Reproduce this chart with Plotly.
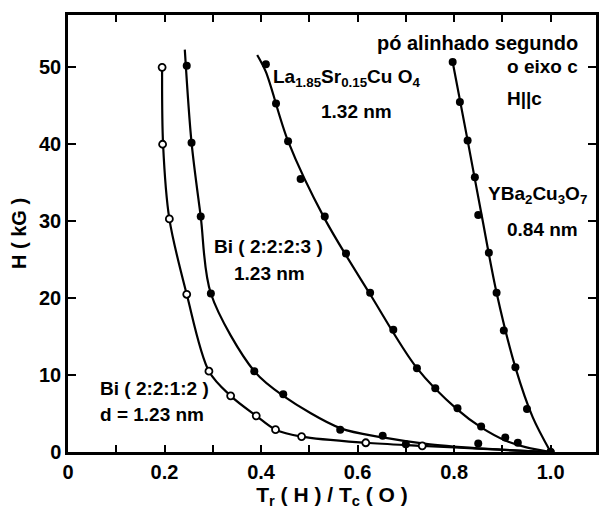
import plotly.graph_objects as go

# ---- data ----
bi2212_x = [0.195, 0.196, 0.21, 0.246, 0.292, 0.337, 0.39, 0.43, 0.484, 0.617, 0.734]
bi2212_y = [50.0, 40.0, 30.3, 20.5, 10.5, 7.3, 4.7, 2.9, 2.0, 1.2, 0.8]
bi2212_curve_x = [0.195, 0.197, 0.21, 0.246, 0.292, 0.337, 0.39, 0.43, 0.484, 0.617, 0.734, 0.86, 1.0]
bi2212_curve_y = [50.5, 40.0, 30.3, 20.5, 10.5, 7.3, 4.7, 2.9, 2.0, 1.2, 0.8, 0.4, 0.0]

bi2223_x = [0.246, 0.256, 0.275, 0.296, 0.386, 0.446, 0.564, 0.652, 0.70, 0.85]
bi2223_y = [50.2, 40.2, 30.6, 20.6, 10.5, 7.5, 2.9, 2.1, 1.0, 1.1]
bi2223_curve_x = [0.242, 0.256, 0.275, 0.296, 0.386, 0.446, 0.564, 0.652, 0.75, 0.87, 1.0]
bi2223_curve_y = [52.3, 40.2, 30.6, 20.6, 10.5, 7.3, 3.1, 1.9, 1.0, 0.4, 0.0]

la_x = [0.41, 0.431, 0.456, 0.482, 0.532, 0.576, 0.626, 0.674, 0.723, 0.761, 0.807, 0.856, 0.906, 0.932, 1.0]
la_y = [50.4, 45.3, 40.4, 35.5, 30.6, 25.8, 20.7, 15.9, 10.9, 8.3, 5.7, 3.3, 1.9, 1.2, 0.0]
la_curve_x = [0.392, 0.41, 0.456, 0.532, 0.626, 0.723, 0.807, 0.856, 0.906, 0.95, 1.0]
la_curve_y = [51.6, 49.4, 40.4, 30.3, 20.5, 10.9, 5.5, 3.2, 1.5, 0.6, 0.0]

yba_x = [0.797, 0.812, 0.828, 0.843, 0.85, 0.872, 0.888, 0.903, 0.927, 0.951, 1.0]
yba_y = [50.7, 45.5, 40.5, 35.7, 30.8, 25.9, 20.7, 15.8, 11.0, 5.6, 0.0]
yba_curve_x = [0.797, 0.828, 0.857, 0.888, 0.927, 0.963, 1.0]
yba_curve_y = [50.7, 40.5, 30.8, 20.7, 11.0, 4.5, 0.0]

x_tickvals = [0, 0.1, 0.2, 0.3, 0.4, 0.5, 0.6, 0.7, 0.8, 0.9, 1.0]
x_ticktext = ["0", "", "0.2", "", "0.4", "", "0.6", "", "0.8", "", "1.0"]
y_tickvals = [0, 10, 20, 30, 40, 50]
y_ticktext = ["0", "10", "20", "30", "40", "50"]

FONT = "Liberation Sans"
fig = go.Figure()

curves = [(bi2212_curve_x, bi2212_curve_y), (bi2223_curve_x, bi2223_curve_y),
          (la_curve_x, la_curve_y), (yba_curve_x, yba_curve_y)]
for cx, cy in curves:
    fig.add_trace(go.Scatter(x=cx, y=cy, mode="lines",
                             line=dict(color="black", width=2.2, shape="spline", smoothing=0.9),
                             hoverinfo="skip", showlegend=False))

fig.add_trace(go.Scatter(x=bi2212_x, y=bi2212_y, mode="markers", showlegend=False,
                         marker=dict(symbol="circle", size=7, color="white",
                                     line=dict(color="black", width=1.8))))
for mx, my in [(bi2223_x, bi2223_y), (la_x, la_y), (yba_x, yba_y)]:
    fig.add_trace(go.Scatter(x=mx, y=my, mode="markers", showlegend=False,
                             marker=dict(symbol="circle", size=8, color="black")))

annots = [
    ("pó alinhado segundo", 1.06, 53.2, "right", 20),
    ("o eixo c", 1.06, 50.1, "right", 19),
    ("H||c", 0.905, 46.0, "left", 19),
    ("La<sub>1.85</sub>Sr<sub>0.15</sub>Cu O<sub>4</sub>", 0.42, 48.6, "left", 19),
    ("1.32 nm", 0.52, 44.3, "left", 19),
    ("YBa<sub>2</sub>Cu<sub>3</sub>O<sub>7</sub>", 0.866, 33.4, "left", 19),
    ("0.84 nm", 0.905, 28.9, "left", 19),
    ("Bi ( 2:2:2:3 )", 0.299, 26.7, "left", 19),
    ("1.23 nm", 0.34, 23.2, "left", 19),
    ("Bi ( 2:2:1:2 )", 0.062, 8.3, "left", 19),
    ("d = 1.23 nm", 0.062, 4.9, "left", 19),
]
for text, ax, ay, anc, fs in annots:
    fig.add_annotation(x=ax, y=ay, xref="x", yref="y", text=text, showarrow=False,
                       xanchor=anc, yanchor="middle",
                       font=dict(family=FONT, size=fs, color="black", weight="bold"))

fig.update_layout(
    width=600, height=511,
    margin=dict(l=68, r=1, t=15, b=59),
    paper_bgcolor="white", plot_bgcolor="white",
    font=dict(family=FONT, size=19, color="black", weight="bold"),
    xaxis=dict(range=[0, 1.094], tickvals=x_tickvals, ticktext=x_ticktext,
               ticks="inside", ticklen=7, tickwidth=2, tickcolor="black",
               showline=True, linewidth=2.5, linecolor="black", mirror="ticks",
               showgrid=False, zeroline=False,
               tickfont=dict(family=FONT, size=20, weight="bold"),
               title=dict(text="T<sub>r</sub> ( H ) / T<sub>c</sub> ( O )",
                          font=dict(family=FONT, size=21, weight="bold"), standoff=4)),
    yaxis=dict(range=[0, 56.8], tickvals=y_tickvals, ticktext=y_ticktext,
               ticks="inside", ticklen=8, tickwidth=2, tickcolor="black",
               showline=True, linewidth=2.5, linecolor="black", mirror="ticks",
               showgrid=False, zeroline=False,
               tickfont=dict(family=FONT, size=20, weight="bold"),
               title=dict(text="H ( kG )", font=dict(family=FONT, size=20, weight="bold"),
                          standoff=8)),
)

fig.write_html("out.html")
